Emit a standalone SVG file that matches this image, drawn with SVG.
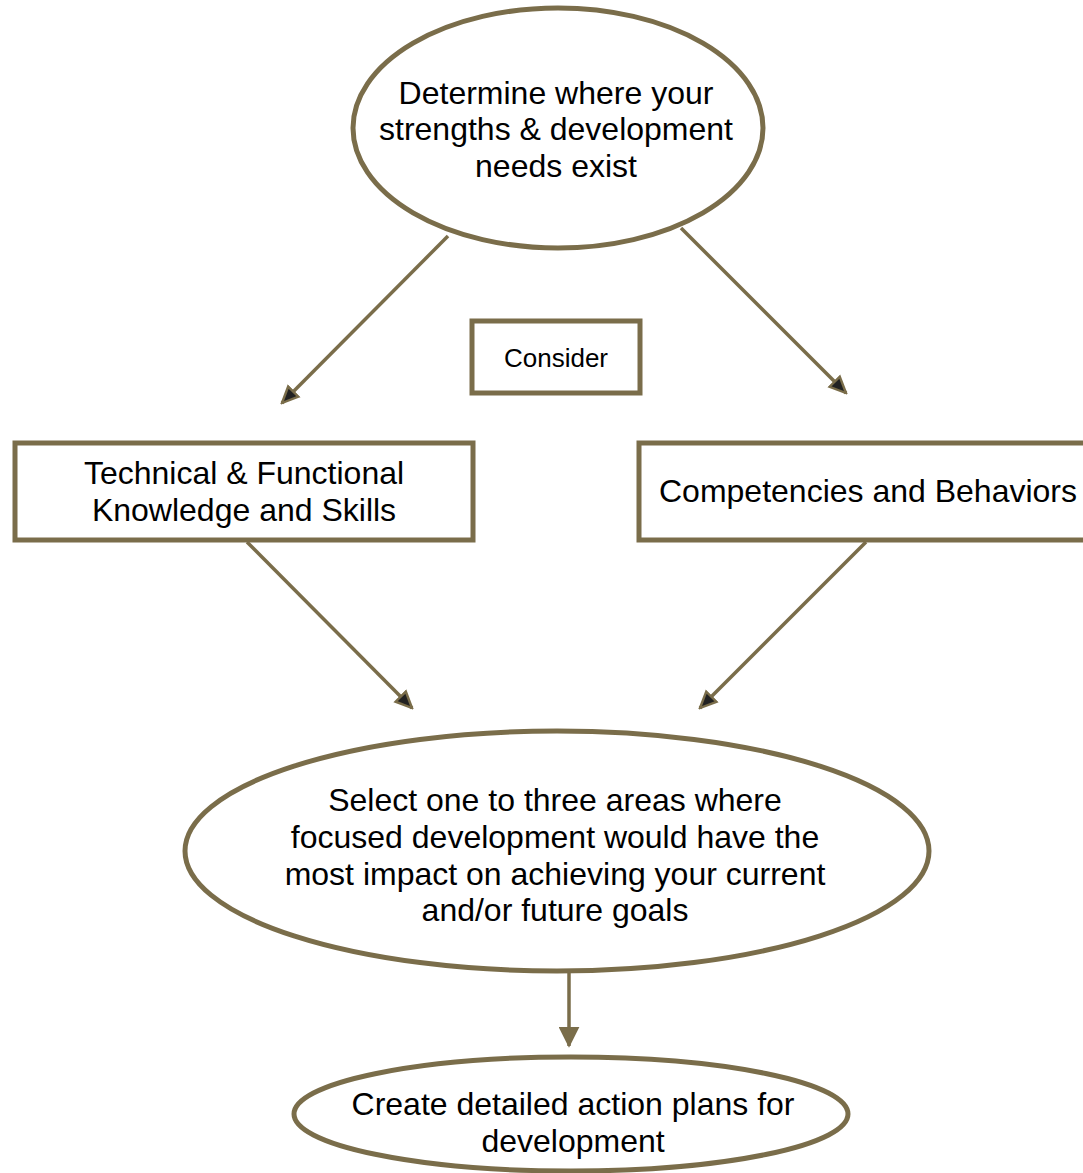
<svg xmlns="http://www.w3.org/2000/svg" width="1083" height="1173" viewBox="0 0 1083 1173">
<style>
.shape{fill:#fff;stroke:#7a6d4a;stroke-width:5}
.line{stroke:#7a6d4a;stroke-width:3.5;fill:none}
text{font-family:"Liberation Sans",Arial,sans-serif;font-size:32px;fill:#000;text-anchor:middle}
.small{font-size:26px}
</style>
<defs>
<marker id="ah" viewBox="0 0 12 12" refX="11" refY="6" markerWidth="5.5" markerHeight="5.5" orient="auto" markerUnits="strokeWidth">
<path d="M1,1.5 L11,6 L1,10.5 Z" fill="#222" stroke="#7a6d4a" stroke-width="1.5"/>
</marker>
<marker id="ahf" viewBox="0 0 12 12" refX="11" refY="6" markerWidth="6" markerHeight="6" orient="auto" markerUnits="strokeWidth">
<path d="M0,0 L12,6 L0,12 Z" fill="#7a6d4a"/>
</marker>
</defs>
<rect width="1083" height="1173" fill="#fff"/>
<g id="connectors">
<line class="line" x1="448" y1="236" x2="282" y2="403" marker-end="url(#ah)"/>
<line class="line" x1="681" y1="228" x2="846" y2="393" marker-end="url(#ah)"/>
<line class="line" x1="247" y1="542" x2="412" y2="708" marker-end="url(#ah)"/>
<line class="line" x1="866" y1="542" x2="700" y2="708" marker-end="url(#ah)"/>
<line class="line" x1="569" y1="973" x2="569" y2="1046" stroke-width="3" marker-end="url(#ahf)"/>
</g>
<g id="determine">
<ellipse class="shape" cx="558" cy="128" rx="205" ry="120"/>
<text x="556" y="104">Determine where your</text>
<text x="556" y="140">strengths &amp; development</text>
<text x="556" y="177">needs exist</text>
</g>
<g id="consider">
<rect class="shape" x="472" y="321" width="168" height="72" stroke-width="4"/>
<text class="small" x="556" y="367">Consider</text>
</g>
<g id="technical">
<rect class="shape" x="15" y="443" width="458" height="97"/>
<text x="244" y="484">Technical &amp; Functional</text>
<text x="244" y="521">Knowledge and Skills</text>
</g>
<g id="competencies">
<rect class="shape" x="639" y="443" width="460" height="97"/>
<text x="868" y="502">Competencies and Behaviors</text>
</g>
<g id="select">
<ellipse class="shape" cx="557" cy="851" rx="372" ry="120"/>
<text x="555" y="811">Select one to three areas where</text>
<text x="555" y="848">focused development would have the</text>
<text x="555" y="885">most impact on achieving your current</text>
<text x="555" y="921">and/or future goals</text>
</g>
<g id="create">
<ellipse class="shape" cx="571" cy="1114" rx="277" ry="57"/>
<text x="573" y="1115">Create detailed action plans for</text>
<text x="573" y="1152">development</text>
</g>
</svg>
